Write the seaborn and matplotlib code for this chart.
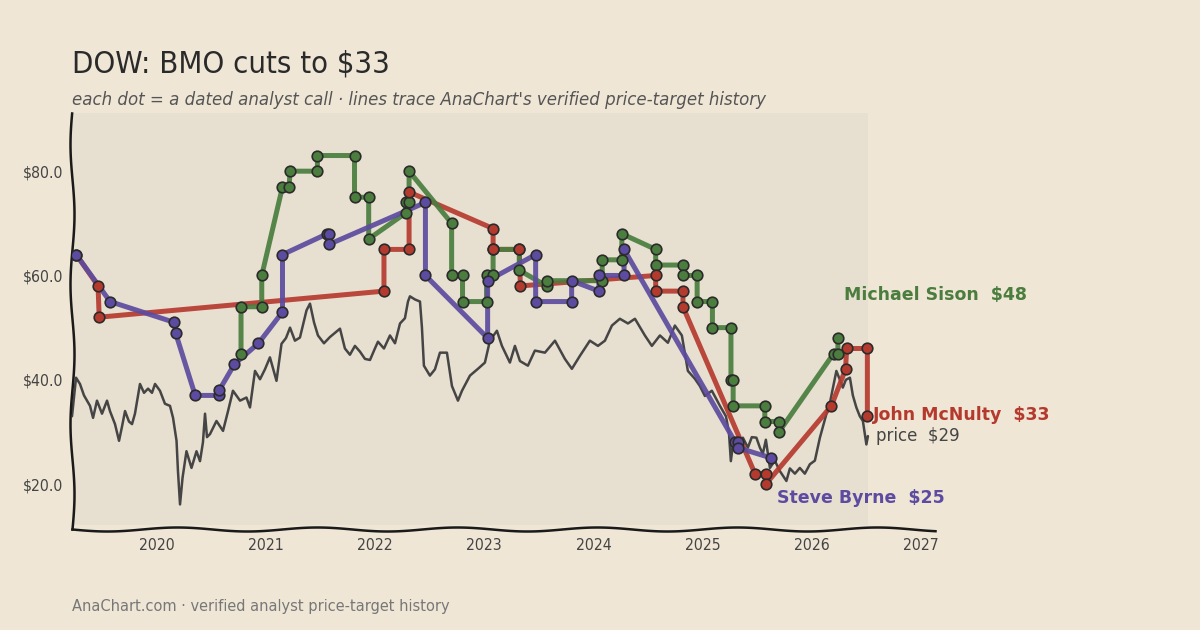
import numpy as np
import pandas as pd
import matplotlib
matplotlib.use("Agg")
import matplotlib.pyplot as plt
import seaborn as sns
from matplotlib.ticker import FuncFormatter

# ── analyst calls (decimal year, target $); each call = old target, new target ──
sison_dates = [2020.77, 2020.77, 2020.96, 2020.96, 2021.15, 2021.21, 2021.22, 2021.47, 2021.47,
               2021.81, 2021.81, 2021.94, 2021.94, 2022.28, 2022.28, 2022.31, 2022.31, 2022.70,
               2022.70, 2022.80, 2022.80, 2023.02, 2023.02, 2023.08, 2023.08, 2023.32, 2023.32,
               2023.57, 2023.57, 2024.08, 2024.08, 2024.26, 2024.26, 2024.57, 2024.57, 2024.82,
               2024.82, 2024.95, 2024.95, 2025.09, 2025.09, 2025.26, 2025.26, 2025.28, 2025.28,
               2025.57, 2025.57, 2025.70, 2025.70, 2026.20, 2026.24, 2026.24]
sison_targets = [45, 54, 54, 60, 77, 77, 80, 80, 83,
                 83, 75, 75, 67, 72, 74, 74, 80, 70,
                 60, 60, 55, 55, 60, 60, 65, 65, 61,
                 58, 59, 59, 63, 63, 68, 65, 62, 62,
                 60, 60, 55, 55, 50, 50, 40, 40, 35,
                 35, 32, 32, 30, 45, 45, 48]

mcnulty_dates = [2019.26, 2019.46, 2019.47, 2022.08, 2022.08, 2022.31, 2022.31, 2023.08, 2023.08,
                 2023.32, 2023.33, 2024.57, 2024.57, 2024.82, 2024.82, 2025.48, 2025.58, 2025.58,
                 2026.18, 2026.31, 2026.32, 2026.51, 2026.51]
mcnulty_targets = [64, 58, 52, 57, 65, 65, 76, 69, 65,
                   65, 58, 60, 57, 57, 54, 22, 22, 20,
                   35, 42, 46, 46, 33]

byrne_dates = [2019.26, 2019.57, 2020.16, 2020.17, 2020.35, 2020.57, 2020.57, 2020.71, 2020.93,
               2021.15, 2021.15, 2021.56, 2021.58, 2021.58, 2022.46, 2022.46, 2023.03, 2023.03,
               2023.47, 2023.47, 2023.80, 2023.80, 2024.05, 2024.05, 2024.28, 2024.28, 2025.30,
               2025.32, 2025.32, 2025.63]
byrne_targets = [64, 55, 51, 49, 37, 37, 38, 43, 47,
                 53, 64, 68, 68, 66, 74, 60, 48, 59,
                 64, 55, 55, 59, 57, 60, 60, 65, 28,
                 28, 27, 25]

# ── DOW close ──
price_dates = [2019.221, 2019.258, 2019.294, 2019.331, 2019.359, 2019.386, 2019.414, 2019.450,
               2019.496, 2019.542, 2019.569, 2019.615, 2019.652, 2019.679, 2019.707, 2019.743,
               2019.771, 2019.798, 2019.844, 2019.881, 2019.918, 2019.954, 2019.982, 2020.027,
               2020.073, 2020.119, 2020.147, 2020.179, 2020.192, 2020.211, 2020.234, 2020.270,
               2020.316, 2020.362, 2020.394, 2020.421, 2020.440, 2020.458, 2020.486, 2020.545,
               2020.605, 2020.651, 2020.696, 2020.761, 2020.820, 2020.852, 2020.898, 2020.944,
               2020.989, 2021.035, 2021.095, 2021.141, 2021.182, 2021.219, 2021.264, 2021.310,
               2021.370, 2021.402, 2021.439, 2021.475, 2021.530, 2021.585, 2021.677, 2021.722,
               2021.768, 2021.814, 2021.860, 2021.906, 2021.952, 2021.997, 2022.025, 2022.080,
               2022.135, 2022.181, 2022.227, 2022.272, 2022.300, 2022.318, 2022.364, 2022.410,
               2022.428, 2022.446, 2022.501, 2022.547, 2022.593, 2022.657, 2022.703, 2022.758,
               2022.795, 2022.868, 2022.941, 2023.005, 2023.051, 2023.115, 2023.161, 2023.234,
               2023.280, 2023.326, 2023.399, 2023.463, 2023.555, 2023.647, 2023.738, 2023.802,
               2023.876, 2023.967, 2024.041, 2024.105, 2024.169, 2024.242, 2024.316, 2024.380,
               2024.471, 2024.535, 2024.609, 2024.682, 2024.746, 2024.810, 2024.865, 2024.929,
               2024.975, 2025.021, 2025.085, 2025.159, 2025.214, 2025.241, 2025.259, 2025.287,
               2025.323, 2025.369, 2025.415, 2025.451, 2025.493, 2025.525, 2025.552, 2025.580,
               2025.617, 2025.662, 2025.708, 2025.768, 2025.800, 2025.846, 2025.891, 2025.937,
               2025.983, 2026.029, 2026.075, 2026.134, 2026.166, 2026.226, 2026.258, 2026.285,
               2026.313, 2026.350, 2026.377, 2026.409, 2026.441, 2026.469, 2026.501, 2026.515]
price_values = [33.0, 40.4, 39.2, 37.0, 36.0, 35.0, 32.7, 36.0,
                33.5, 36.0, 34.0, 31.5, 28.3, 31.0, 34.0, 32.0,
                31.5, 33.5, 39.2, 37.5, 38.3, 37.5, 39.2, 37.9,
                35.4, 35.0, 32.7, 28.3, 22.5, 16.1, 21.2, 26.3,
                23.1, 26.3, 24.4, 28.0, 33.5, 29.0, 29.6, 32.1,
                30.2, 34.0, 37.9, 36.0, 36.6, 34.7, 41.7, 40.1,
                42.0, 44.3, 39.8, 46.9, 48.0, 50.0, 47.5, 48.1,
                53.3, 54.6, 51.0, 48.5, 47.0, 48.2, 49.8, 46.0,
                44.8, 46.5, 45.4, 44.0, 43.8, 46.0, 47.3, 46.0,
                48.5, 47.0, 50.8, 51.8, 55.0, 56.0, 55.4, 55.0,
                50.0, 42.7, 40.8, 42.0, 45.2, 45.2, 38.8, 36.0,
                37.9, 40.8, 42.1, 43.3, 47.5, 49.4, 46.5, 43.3,
                46.5, 43.6, 42.7, 45.6, 45.2, 47.5, 44.0, 42.1,
                44.6, 47.5, 46.5, 47.5, 50.4, 51.7, 50.8, 51.7,
                48.5, 46.5, 48.5, 47.1, 50.4, 48.5, 41.7, 40.2,
                38.8, 36.9, 37.9, 35.0, 33.0, 30.0, 24.4, 29.0,
                26.5, 28.9, 27.0, 29.0, 28.9, 27.0, 25.8, 28.5,
                23.1, 24.5, 22.5, 20.6, 23.0, 22.0, 23.1, 22.0,
                23.8, 24.5, 28.9, 33.4, 35.5, 41.7, 40.0, 38.5,
                40.0, 40.4, 37.0, 34.7, 33.0, 32.1, 27.6, 29.2]

analysts = ["Michael Sison", "John McNulty", "Steve Byrne"]
colors = {"Michael Sison": "#4a7d3e", "John McNulty": "#b53a2e", "Steve Byrne": "#5c4ba0"}

calls = pd.concat([
    pd.DataFrame({"date": sison_dates, "target": sison_targets, "analyst": "Michael Sison"}),
    pd.DataFrame({"date": mcnulty_dates, "target": mcnulty_targets, "analyst": "John McNulty"}),
    pd.DataFrame({"date": byrne_dates, "target": byrne_targets, "analyst": "Steve Byrne"}),
], ignore_index=True)
price = pd.DataFrame({"date": price_dates, "close": price_values})

BG = "#efe6d6"
sns.set_theme(style="white")
plt.rcParams["font.family"] = ["DejaVu Sans"]
plt.rcParams["font.stretch"] = "condensed"

fig, ax = plt.subplots(figsize=(12, 6.3), dpi=100)
fig.patch.set_facecolor(BG)
ax.set_facecolor(BG)
fig.subplots_adjust(left=0.06, right=0.779, top=0.8206, bottom=0.16)

# shaded panel behind the price history
ax.axvspan(price_dates[0], price_dates[-1], ymin=0.01, ymax=1.0, color="#e7dfd0", zorder=0, lw=0)

sns.lineplot(data=price, x="date", y="close", color="#454545", lw=1.8,
             estimator=None, sort=False, ax=ax, zorder=2)

for name in ["John McNulty", "Michael Sison", "Steve Byrne"]:
    sub = calls[calls["analyst"] == name]
    sns.lineplot(data=sub, x="date", y="target", color=colors[name], lw=3.6, alpha=0.92,
                 estimator=None, sort=False, ax=ax, zorder=3)
for name in analysts:
    sub = calls[calls["analyst"] == name]
    sns.scatterplot(data=sub, x="date", y="target", color=colors[name], s=58,
                    edgecolor="#2b2b2b", linewidth=1.2, ax=ax, zorder=4)

# end labels
ax.text(2026.30, 56.2, f"Michael Sison  ${sison_targets[-1]}", color=colors["Michael Sison"],
        fontsize=12.5, fontweight="bold", va="center", fontstretch="normal")
ax.text(2026.56, 33.3, f"John McNulty  ${mcnulty_targets[-1]}", color=colors["John McNulty"],
        fontsize=12.5, fontweight="bold", va="center", fontstretch="normal")
ax.text(2026.59, 29.2, f"price  ${price_values[-1]:.0f}", color="#454545",
        fontsize=12, va="center", fontstretch="normal")
ax.text(2025.68, 17.3, f"Steve Byrne  ${byrne_targets[-1]}", color=colors["Steve Byrne"],
        fontsize=12.5, fontweight="bold", va="center", fontstretch="normal")

ax.set_xlim(2019.221, 2027.128)
ax.set_ylim(11.35, 91.15)
ax.set_xticks(range(2020, 2028))
ax.set_yticks([20, 40, 60, 80])
ax.yaxis.set_major_formatter(FuncFormatter(lambda v, p: f"${v:.1f}"))
ax.tick_params(length=0, labelsize=11.3, labelcolor="#444444", pad=6)
ax.set_xlabel("")
ax.set_ylabel("")

sns.despine(ax=ax)
for side in ["left", "bottom"]:
    ax.spines[side].set_color("#1a1a1a")
    ax.spines[side].set_linewidth(1.8)
    ax.spines[side].set_sketch_params(2.0, 140, 1.0)

fig.text(0.06, 0.899, "DOW: BMO cuts to $33", fontsize=22.2, color="#2a2a2a", va="center")
fig.text(0.06, 0.841, "each dot = a dated analyst call · lines trace AnaChart's verified price-target history",
         fontsize=13.3, style="italic", color="#555555", va="center")
fig.text(0.06, 0.038, "AnaChart.com · verified analyst price-target history",
         fontsize=11.7, color="#777777", va="center")

fig.savefig("out.png", dpi=100, facecolor=BG)
